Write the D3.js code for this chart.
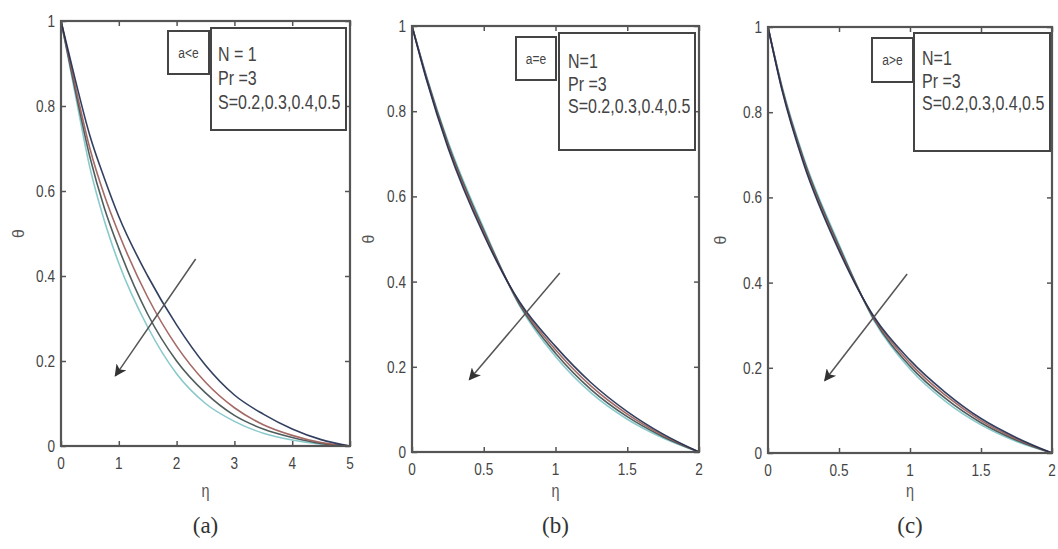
<!DOCTYPE html>
<html><head><meta charset="utf-8">
<script src="https://cdn.jsdelivr.net/npm/d3@7"></script>
<style>body{margin:0;background:#fff}svg{display:block}</style>
</head><body>
<svg id="chart" width="1058" height="549"></svg>
<script>
// ---------- data ----------
const sValues = ["0.2", "0.3", "0.4", "0.5"];
const seriesColors = ["#1c2b4f", "#9a5a55", "#3d4b4b", "#7cc3c6"];

const yTicks = [0, 0.2, 0.4, 0.6, 0.8, 1];
const yTickLabels = ["0", "0.2", "0.4", "0.6", "0.8", "1"];

const xTicksA = [0, 1, 2, 3, 4, 5];
const xTickLabelsA = ["0", "1", "2", "3", "4", "5"];
const xTicksBC = [0, 0.5, 1, 1.5, 2];
const xTickLabelsBC = ["0", "0.5", "1", "1.5", "2"];

// panel (a): a<e
const etaA = [0, 0.25, 0.5, 0.75, 1, 1.5, 2, 2.5, 3, 3.5, 4, 4.5, 5];
const thetaA_S02 = [1, 0.86, 0.73, 0.63, 0.54, 0.40, 0.285, 0.19, 0.12, 0.075, 0.04, 0.015, 0];
const thetaA_S03 = [1, 0.845, 0.70, 0.59, 0.50, 0.35, 0.235, 0.15, 0.09, 0.05, 0.025, 0.008, 0];
const thetaA_S04 = [1, 0.835, 0.68, 0.56, 0.465, 0.31, 0.20, 0.125, 0.072, 0.04, 0.02, 0.006, 0];
const thetaA_S05 = [1, 0.825, 0.655, 0.53, 0.43, 0.28, 0.17, 0.10, 0.058, 0.03, 0.014, 0.004, 0];

// panel (b): a=e
const etaB = [0, 0.1, 0.25, 0.5, 0.75, 1, 1.25, 1.5, 1.75, 2];
const thetaB_S02 = [1, 0.875, 0.715, 0.51, 0.352, 0.248, 0.162, 0.095, 0.042, 0];
const thetaB_S03 = [1, 0.878, 0.72, 0.515, 0.349, 0.240, 0.154, 0.089, 0.039, 0];
const thetaB_S04 = [1, 0.881, 0.725, 0.52, 0.346, 0.232, 0.146, 0.083, 0.036, 0];
const thetaB_S05 = [1, 0.884, 0.73, 0.525, 0.343, 0.224, 0.138, 0.077, 0.033, 0];

// panel (c): a>e
const etaC = [0, 0.1, 0.25, 0.5, 0.75, 1, 1.25, 1.5, 1.75, 2];
const thetaC_S02 = [1, 0.85, 0.68, 0.475, 0.318, 0.218, 0.142, 0.081, 0.036, 0];
const thetaC_S03 = [1, 0.853, 0.685, 0.48, 0.315, 0.211, 0.135, 0.076, 0.033, 0];
const thetaC_S04 = [1, 0.856, 0.69, 0.485, 0.312, 0.204, 0.128, 0.071, 0.030, 0];
const thetaC_S05 = [1, 0.859, 0.695, 0.49, 0.309, 0.197, 0.121, 0.066, 0.027, 0];

// arrows (data units): [x1, y1, x2, y2]
const arrowA = [2.33, 0.44, 0.94, 0.165];
const arrowB = [1.03, 0.42, 0.40, 0.17];
const arrowC = [0.98, 0.42, 0.40, 0.17];

const caseLabels = ["a<e", "a=e", "a>e"];
const legendLinesA = ["N = 1", "Pr =3", "S=0.2,0.3,0.4,0.5"];
const legendLinesBC = ["N=1", "Pr =3", "S=0.2,0.3,0.4,0.5"];
const panelLabels = ["(a)", "(b)", "(c)"];
const xLabel = "\u03B7";
const yLabel = "\u03B8";

// ---------- layout ----------
const panels = [
  { left: 61, right: 350, top: 21, bottom: 446, xMax: 5, xTicks: xTicksA, xTickLabels: xTickLabelsA,
    eta: etaA, series: [thetaA_S02, thetaA_S03, thetaA_S04, thetaA_S05], arrow: arrowA,
    caseLabel: caseLabels[0], legend: legendLinesA, label: panelLabels[0],
    small: [168, 31, 209, 74], big: [211, 28, 346, 130], textX: 218, baselines: [61, 85, 109], yLabX: 18 },
  { left: 412, right: 699, top: 26, bottom: 452, xMax: 2, xTicks: xTicksBC, xTickLabels: xTickLabelsBC,
    eta: etaB, series: [thetaB_S02, thetaB_S03, thetaB_S04, thetaB_S05], arrow: arrowB,
    caseLabel: caseLabels[1], legend: legendLinesBC, label: panelLabels[1],
    small: [516, 37, 556, 80], big: [559, 33, 695, 150], textX: 568, baselines: [68, 91, 113], yLabX: 368 },
  { left: 768, right: 1052, top: 27, bottom: 453, xMax: 2, xTicks: xTicksBC, xTickLabels: xTickLabelsBC,
    eta: etaC, series: [thetaC_S02, thetaC_S03, thetaC_S04, thetaC_S05], arrow: arrowC,
    caseLabel: caseLabels[2], legend: legendLinesBC, label: panelLabels[2],
    small: [872, 38, 913, 82], big: [914, 33, 1050, 151], textX: 922, baselines: [65, 88, 110], yLabX: 720 }
];

const svg = d3.select("#chart");
const sans = "'Liberation Sans', Arial, sans-serif";
const squeeze = 0.8;
const axisColor = "#555";

// narrow text helper: horizontally condensed via transform
function narrowText(parent, x, y, str, size, anchor, fill) {
  return parent.append("text")
    .attr("transform", `translate(${x},${y}) scale(${squeeze},1)`)
    .attr("text-anchor", anchor || "start").attr("fill", fill || "#444")
    .style("font-family", sans).style("font-size", size + "px").text(str);
}

svg.append("defs").append("marker")
  .attr("id", "arrowhead").attr("viewBox", "0 0 10 10")
  .attr("refX", 9).attr("refY", 5).attr("markerWidth", 16).attr("markerHeight", 12)
  .attr("markerUnits", "userSpaceOnUse").attr("orient", "auto")
  .append("path").attr("d", "M0,0 L10,5 L0,10 L2.5,5 Z").attr("fill", "#333");

panels.forEach(p => {
  const x = d3.scaleLinear().domain([0, p.xMax]).range([p.left, p.right]);
  const y = d3.scaleLinear().domain([0, 1]).range([p.bottom, p.top]);
  const g = svg.append("g");

  // curves (draw highest S first so S=0.2 ends on top)
  const line = d3.line().x(d => x(d[0])).y(d => y(d[1])).curve(d3.curveMonotoneX);
  for (let i = p.series.length - 1; i >= 0; i--) {
    const pts = p.eta.map((e, k) => [e, p.series[i][k]]);
    g.append("path").attr("d", line(pts)).attr("fill", "none")
      .attr("stroke", seriesColors[i]).attr("stroke-width", 1.6).attr("opacity", 0.9);
  }

  // axes (inward ticks, mirrored)
  const axB = g.append("g").attr("transform", `translate(0,${p.bottom})`)
    .call(d3.axisBottom(x).tickValues(p.xTicks).tickFormat("").tickSizeInner(-5).tickSizeOuter(0));
  const axL = g.append("g").attr("transform", `translate(${p.left},0)`)
    .call(d3.axisLeft(y).tickValues(yTicks).tickFormat("").tickSizeInner(-5).tickSizeOuter(0));
  const axT = g.append("g").attr("transform", `translate(0,${p.top})`)
    .call(d3.axisTop(x).tickValues(p.xTicks).tickFormat("").tickSizeInner(-5).tickSizeOuter(0));
  const axR = g.append("g").attr("transform", `translate(${p.right},0)`)
    .call(d3.axisRight(y).tickValues(yTicks).tickFormat("").tickSizeInner(-5).tickSizeOuter(0));
  [axB, axL, axT, axR].forEach(a => {
    a.select(".domain").remove();
    a.selectAll("line").attr("stroke", axisColor).attr("stroke-width", 1.5);
  });
  // tick labels from the scales
  p.xTicks.forEach((t, i) => narrowText(g, x(t), p.bottom + 23, p.xTickLabels[i], 17, "middle", "#444"));
  yTicks.forEach((t, i) => narrowText(g, p.left - 6, y(t) + 6, yTickLabels[i], 17, "end", "#444"));

  g.append("rect").attr("x", p.left).attr("y", p.top)
    .attr("width", p.right - p.left).attr("height", p.bottom - p.top)
    .attr("fill", "none").attr("stroke", axisColor).attr("stroke-width", 2.2);

  // arrow
  g.append("line").attr("x1", x(p.arrow[0])).attr("y1", y(p.arrow[1]))
    .attr("x2", x(p.arrow[2])).attr("y2", y(p.arrow[3]))
    .attr("stroke", "#555").attr("stroke-width", 1.5).attr("marker-end", "url(#arrowhead)");

  // legend boxes
  const [sx1, sy1, sx2, sy2] = p.small;
  g.append("rect").attr("x", sx1).attr("y", sy1).attr("width", sx2 - sx1).attr("height", sy2 - sy1)
    .attr("fill", "#fff").attr("stroke", "#444").attr("stroke-width", 2);
  narrowText(g, (sx1 + sx2) / 2, (sy1 + sy2) / 2 + 5, p.caseLabel, 15, "middle", "#444");
  const [bx1, by1, bx2, by2] = p.big;
  g.append("rect").attr("x", bx1).attr("y", by1).attr("width", bx2 - bx1).attr("height", by2 - by1)
    .attr("fill", "#fff").attr("stroke", "#444").attr("stroke-width", 2);
  p.legend.forEach((t, i) => narrowText(g, p.textX, p.baselines[i], t, 20, "start", "#444"));

  // axis labels
  narrowText(g, (p.left + p.right) / 2, 497, xLabel, 18, "middle", "#555");
  g.append("text").attr("transform", `translate(${p.yLabX + 6},${(p.top + p.bottom) / 2}) rotate(-90)`)
    .attr("text-anchor", "middle").attr("fill", "#555")
    .style("font-family", sans).style("font-size", "16px").text(yLabel);
  g.append("text").attr("x", (p.left + p.right) / 2).attr("y", 533).attr("text-anchor", "middle")
    .attr("fill", "#333").style("font-family", "'Liberation Serif','Times New Roman',serif")
    .style("font-size", "23px").text(p.label);
});
</script>
</body></html>
